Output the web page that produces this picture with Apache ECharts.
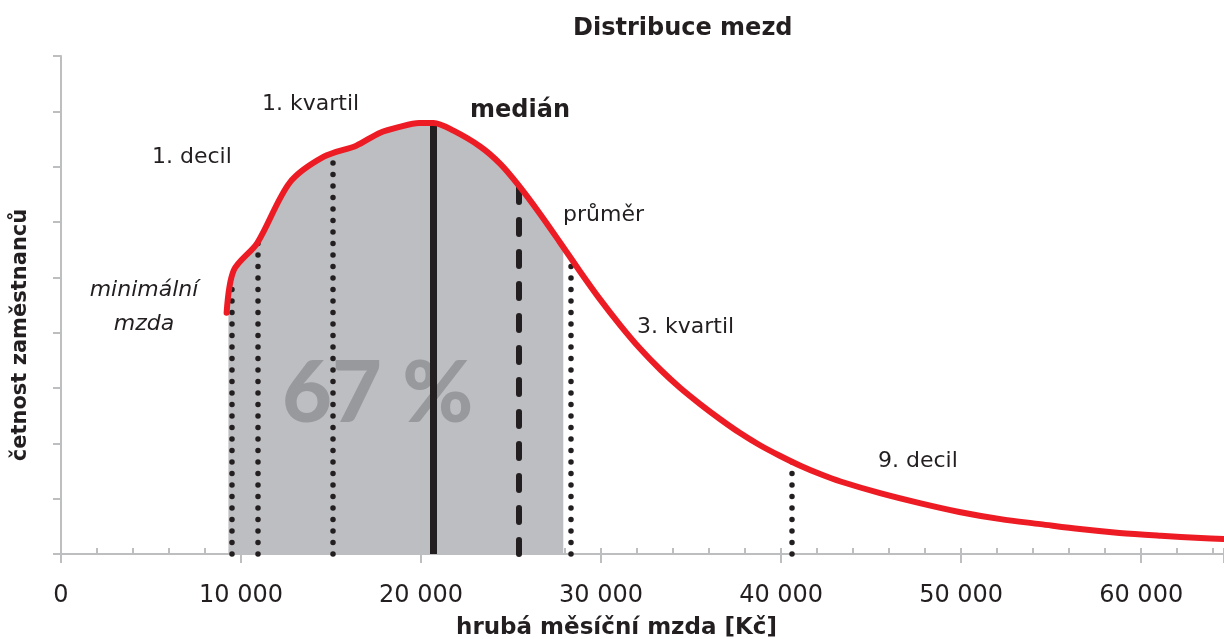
<!DOCTYPE html>
<html>
<head>
<meta charset="utf-8">
<script src="https://cdn.jsdelivr.net/npm/echarts@6/dist/echarts.min.js"></script>
<style>
  html, body { margin: 0; padding: 0; background: #fff; }
  #chart { width: 1224px; height: 639px; }
</style>
</head>
<body>
<div id="chart"></div>
<script>
// wage curve (Kč, relative headcount)
const salary = [9200, 9600, 10900, 12700, 14600, 16400, 17700, 18800, 19900, 20700,
  21800, 23300, 24400, 25400, 26600, 27700, 28800, 29900, 31100, 32200, 33300, 34400,
  35500, 36600, 37700, 38800, 39900, 41100, 42200, 43300, 45500, 47700, 49900, 52200,
  54400, 56600, 58800, 61100, 63300, 64600];
const headcount = [4.36, 5.13, 5.62, 6.71, 7.18, 7.38, 7.61, 7.72, 7.79, 7.79,
  7.65, 7.36, 7.05, 6.67, 6.15, 5.64, 5.12, 4.62, 4.12, 3.70, 3.33, 3.00,
  2.71, 2.44, 2.19, 1.97, 1.78, 1.59, 1.44, 1.31, 1.10, 0.92, 0.76, 0.63,
  0.54, 0.45, 0.38, 0.33, 0.29, 0.27];

// grey band (67 % of employees): its own edge points, the rest follows the curve
const shadeStart = [9300, 4.75];
const shadeEnd = [27900, 5.55];

// vertical markers
const markerNames = ['minimální mzda', '1. decil', '1. kvartil', 'medián', 'průměr', '3. kvartil', '9. decil'];
const markerSalary = [9500, 10950, 15100, 20650, 25400, 28300, 40600];
const markerHeight = [4.8, 5.62, 7.15, 7.79, 6.67, 5.2, 1.68];
const markerKind = ['dot', 'dot', 'dot', 'solid', 'dash', 'dot', 'dot'];

const xTicks = [0, 10000, 20000, 30000, 40000, 50000, 60000];

const ink = '#231f20';
const axisGrey = '#bcbec0';
const font = 'DejaVu Sans';

const lineStyles = {
  dot: { type: [0, 11.5], width: 5.5, cap: 'round', color: ink },
  dash: { type: [14, 18], width: 6, cap: 'round', color: ink },
  solid: { type: 'solid', width: 7, color: ink }
};

const markLines = markerSalary.map(function (x, i) {
  return [
    { name: markerNames[i], coord: [x, 0], lineStyle: lineStyles[markerKind[i]] },
    { coord: [x, markerHeight[i]] }
  ];
});

const curveData = salary.map((x, i) => [x, headcount[i]]);
const shadeData = [shadeStart]
  .concat(curveData.filter(p => p[0] > shadeStart[0] && p[0] < shadeEnd[0]))
  .concat([shadeEnd]);

function label(text, x, y, style) {
  return {
    type: 'text', x: x, y: y, z: 20,
    style: Object.assign({ text: text, fill: ink, font: '22px "' + font + '"', verticalAlign: 'middle', align: 'left' }, style || {})
  };
}

var myChart = echarts.init(document.getElementById('chart'));

const option = {
  animation: false,
  backgroundColor: '#fff',
  title: {
    text: 'Distribuce mezd',
    left: 573,
    top: 17,
    padding: 0,
    textStyle: { fontFamily: font, fontSize: 24, fontWeight: 'bold', color: ink }
  },
  grid: { left: 61, right: 0, top: 56, bottom: 85, outerBoundsMode: 'none' },
  xAxis: [
    {
      type: 'value',
      min: 0,
      max: 64600,
      interval: 10000,
      axisLine: { show: true, onZero: false, lineStyle: { color: axisGrey, width: 2 } },
      axisTick: { show: true, length: 9, lineStyle: { color: axisGrey, width: 2 } },
      axisLabel: {
        margin: 30,
        fontFamily: font,
        fontSize: 24,
        color: ink,
        formatter: function (v) {
          if (xTicks.indexOf(v) < 0) return '';
          return v === 0 ? '0' : (v / 1000) + ' 000';
        }
      },
      splitLine: { show: false },
      name: 'hrubá měsíční mzda [Kč]',
      nameLocation: 'middle',
      nameGap: 63,
      nameTextStyle: { fontFamily: font, fontSize: 23, fontWeight: 'bold', color: ink, padding: [0, 52, 0, 0] }
    },
    {
      // minor ticks every 2 000, drawn inside
      type: 'value',
      min: 0,
      max: 64600,
      interval: 2000,
      position: 'bottom',
      axisLine: { show: false },
      axisTick: { show: true, inside: true, length: 6, lineStyle: { color: axisGrey, width: 2 } },
      axisLabel: { show: false },
      splitLine: { show: false }
    }
  ],
  yAxis: {
    type: 'value',
    min: 0,
    max: 9,
    interval: 1,
    axisLine: { show: true, lineStyle: { color: axisGrey, width: 2 } },
    axisTick: { show: true, length: 8, lineStyle: { color: axisGrey, width: 2 } },
    axisLabel: { show: false },
    splitLine: { show: false },
    name: 'četnost zaměstnanců',
    nameLocation: 'middle',
    nameRotate: 90,
    nameGap: 30,
    nameTextStyle: { fontFamily: font, fontSize: 21, fontWeight: 'bold', color: ink, padding: [0, 60, 0, 0] }
  },
  graphic: [
    {
      type: 'text', x: 282, y: 394, z: 3,
      style: { text: '67 %', fill: '#98999c', font: '900 86px Lato', verticalAlign: 'middle', align: 'left' }
    },
    label('1. decil', 152, 157),
    label('1. kvartil', 262, 104),
    label('medián', 470, 111, { font: 'bold 24px "' + font + '"' }),
    label('průměr', 563, 215),
    label('3. kvartil', 637, 327),
    label('9. decil', 878, 461),
    {
      type: 'text', x: 144, y: 307, z: 20,
      style: { text: 'minimální\nmzda', fill: ink, font: 'italic 22px "' + font + '"', lineHeight: 34, verticalAlign: 'middle', align: 'center' }
    }
  ],
  series: [
    {
      name: '67 %',
      type: 'line',
      data: shadeData,
      smooth: 0.3,
      showSymbol: false,
      symbol: 'none',
      lineStyle: { width: 0 },
      areaStyle: { color: '#bdbec1', opacity: 1 },
      silent: true,
      z: 1,
      markLine: {
        z: 5,
        silent: true,
        symbol: ['none', 'none'],
        label: { show: false },
        data: markLines
      }
    },
    {
      name: 'četnost',
      type: 'line',
      data: curveData,
      smooth: 0.3,
      showSymbol: false,
      symbol: 'none',
      lineStyle: { color: '#ed1c24', width: 6, cap: 'round', join: 'round' },
      z: 10
    }
  ]
};

option && myChart.setOption(option);

window.addEventListener('resize', function () {
  myChart.resize();
});
</script>
</body>
</html>
